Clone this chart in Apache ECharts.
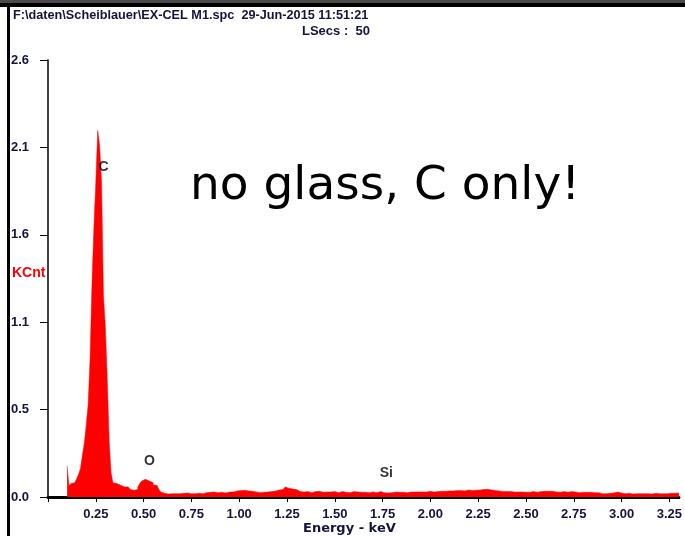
<!DOCTYPE html>
<html>
<head>
<meta charset="utf-8">
<script src="https://cdn.jsdelivr.net/npm/echarts@6/dist/echarts.min.js"></script>
<style>
  html, body { margin: 0; padding: 0; background: #fff; }
  #chart { width: 685px; height: 536px; }
</style>
</head>
<body>
<div id="chart"></div>
<script>
// spectrum: one value per 10 eV channel, first channel starts at 0.10 keV
const channelStart = 0.10
const channelWidth = 0.01
const counts = [
  0.185, 0.066, 0.080, 0.085, 0.095, 0.110, 0.135, 0.170, 0.250, 0.320,
  0.430, 0.550, 0.820, 1.270, 1.600, 1.870, 2.180, 2.090, 1.870, 1.200,
  1.010, 0.700, 0.330, 0.140, 0.085, 0.080, 0.075, 0.070, 0.065, 0.060,
  0.058, 0.060, 0.055, 0.045, 0.040, 0.038, 0.045, 0.060, 0.080, 0.095,
  0.105, 0.100, 0.095, 0.100, 0.085, 0.072, 0.070, 0.060, 0.045, 0.030,
  0.022, 0.020, 0.018, 0.022, 0.020, 0.018, 0.020, 0.024, 0.020, 0.018,
  0.022, 0.020, 0.024, 0.018, 0.020, 0.022, 0.020, 0.018, 0.022, 0.024,
  0.020, 0.024, 0.026, 0.030, 0.028, 0.024, 0.030, 0.028, 0.026, 0.030,
  0.028, 0.026, 0.024, 0.028, 0.030, 0.034, 0.030, 0.032, 0.036, 0.034,
  0.038, 0.036, 0.040, 0.038, 0.036, 0.040, 0.034, 0.032, 0.030, 0.028,
  0.026, 0.030, 0.028, 0.026, 0.030, 0.028, 0.032, 0.030, 0.036, 0.040,
  0.042, 0.046, 0.044, 0.050, 0.060, 0.052, 0.044, 0.048, 0.040, 0.044,
  0.036, 0.032, 0.034, 0.030, 0.028, 0.032, 0.030, 0.026, 0.030, 0.032,
  0.030, 0.034, 0.030, 0.028, 0.032, 0.030, 0.026, 0.030, 0.028, 0.032,
  0.030, 0.026, 0.028, 0.032, 0.030, 0.028, 0.030, 0.026, 0.028, 0.032,
  0.028, 0.030, 0.026, 0.028, 0.030, 0.028, 0.032, 0.026, 0.028, 0.030,
  0.028, 0.026, 0.030, 0.032, 0.028, 0.026, 0.030, 0.024, 0.028, 0.026,
  0.028, 0.030, 0.026, 0.028, 0.024, 0.028, 0.030, 0.026, 0.028, 0.030,
  0.028, 0.030, 0.026, 0.030, 0.032, 0.030, 0.034, 0.030, 0.032, 0.034,
  0.032, 0.030, 0.034, 0.032, 0.036, 0.034, 0.030, 0.034, 0.032, 0.036,
  0.034, 0.036, 0.040, 0.038, 0.042, 0.038, 0.040, 0.036, 0.040, 0.042,
  0.040, 0.038, 0.042, 0.040, 0.044, 0.042, 0.046, 0.044, 0.048, 0.046,
  0.044, 0.042, 0.040, 0.038, 0.040, 0.036, 0.034, 0.032, 0.030, 0.032,
  0.030, 0.032, 0.028, 0.030, 0.032, 0.030, 0.028, 0.030, 0.032, 0.028,
  0.030, 0.028, 0.030, 0.032, 0.030, 0.028, 0.030, 0.032, 0.030, 0.034,
  0.032, 0.034, 0.036, 0.034, 0.032, 0.030, 0.032, 0.028, 0.030, 0.032,
  0.030, 0.028, 0.030, 0.032, 0.028, 0.030, 0.028, 0.026, 0.030, 0.028,
  0.030, 0.028, 0.026, 0.028, 0.030, 0.026, 0.028, 0.026, 0.022, 0.020,
  0.022, 0.020, 0.018, 0.022, 0.020, 0.024, 0.026, 0.030, 0.028, 0.024,
  0.022, 0.020, 0.018, 0.022, 0.020, 0.018, 0.022, 0.020, 0.018, 0.020,
  0.022, 0.020, 0.018, 0.020, 0.022, 0.018, 0.020, 0.022, 0.018, 0.020,
  0.022, 0.020, 0.024, 0.020, 0.018, 0.022, 0.024, 0.022, 0.026, 0.024,
  0.024
]

// element markers: name, energy (keV), label height (KCnt)
const peakNames = ['C', 'O', 'Si']
const peakEnergy = [0.29, 0.53, 1.77]
const peakLabelY = [1.96, 0.214, 0.143]

const yTickLabels = ['0.0', '0.5', '1.1', '1.6', '2.1', '2.6']
const yStep = 0.52
const xStep = 0.25

const headerLine1 = 'F:\\daten\\Scheiblauer\\EX-CEL M1.spc  29-Jun-2015 11:51:21'
const headerLine2 = 'LSecs :  50'
const note = 'no glass, C only!'

const labelColor = '#14143c'
const numFont = { fontFamily: 'Liberation Sans', fontWeight: 'bold', fontSize: 13, color: labelColor }

const spectrum = counts.map((v, i) => [+(channelStart + i * channelWidth).toFixed(2), v])

const chart = echarts.init(document.getElementById('chart'), null, { renderer: 'canvas' })

const option = {
  animation: false,
  backgroundColor: '#fff',
  grid: { left: 48, right: 0, top: 60, bottom: 39 },
  xAxis: {
    type: 'value',
    min: 0,
    max: 3.3,
    interval: xStep,
    axisLine: { lineStyle: { color: '#000', width: 3 } },
    axisTick: { length: 5, lineStyle: { color: '#000', width: 1 } },
    axisLabel: Object.assign({
      margin: 11,
      showMaxLabel: false,
      formatter: v => {
        const k = v / xStep
        if (v === 0 || Math.abs(k - Math.round(k)) > 1e-6) return ''
        return v.toFixed(2)
      }
    }, numFont),
    splitLine: { show: false }
  },
  yAxis: {
    type: 'value',
    min: 0,
    max: 2.6,
    interval: yStep,
    axisLine: { show: true, lineStyle: { color: '#000', width: 1.5 } },
    axisTick: { show: true, length: 8, lineStyle: { color: '#000', width: 1 } },
    axisLabel: Object.assign({
      align: 'left',
      margin: 37,
      formatter: v => yTickLabels[Math.round(v / yStep)] || ''
    }, numFont),
    splitLine: { show: false }
  },
  series: [
    {
      type: 'line',
      step: 'end',
      data: spectrum,
      symbol: 'none',
      lineStyle: { color: '#ff0000', width: 0.5 },
      areaStyle: { color: '#ff0000', opacity: 1 },
      z: 1
    },
    {
      type: 'scatter',
      symbolSize: 0,
      data: peakNames.map((n, i) => ({ name: n, value: [peakEnergy[i], peakLabelY[i]] })),
      label: {
        show: true,
        position: 'inside',
        formatter: '{b}',
        fontFamily: 'Liberation Sans',
        fontWeight: 'bold',
        fontSize: 14,
        color: '#000'
      },
      emphasis: { disabled: true },
      silent: true,
      z: 5
    }
  ],
  graphic: [
    { type: 'rect', shape: { x: 0, y: 0, width: 685, height: 3 }, style: { fill: '#4a4a4a' } },
    { type: 'rect', shape: { x: 0, y: 3, width: 685, height: 4 }, style: { fill: '#000' } },
    { type: 'rect', shape: { x: 7, y: 5, width: 3, height: 531 }, style: { fill: '#000' } },
    {
      type: 'text', left: 13, top: 9,
      style: { text: headerLine1, fontFamily: 'Liberation Sans', fontWeight: 'bold', fontSize: 12.7, fill: labelColor }
    },
    {
      type: 'text', left: 302, top: 25,
      style: { text: headerLine2, fontFamily: 'Liberation Sans', fontWeight: 'bold', fontSize: 13, fill: labelColor }
    },
    {
      type: 'text', left: 12, top: 266,
      style: { text: 'KCnt', fontFamily: 'Liberation Sans', fontWeight: 'bold', fontSize: 14, fill: '#ff0000' }
    },
    {
      type: 'text', left: 190, top: 163,
      style: { text: note, fontFamily: 'DejaVu Sans', fontSize: 47, fill: '#000' }
    },
    {
      type: 'text', left: 303, top: 522,
      style: { text: 'Energy - keV', fontFamily: 'DejaVu Sans', fontWeight: 'bold', fontSize: 13, fill: labelColor }
    }
  ]
}

chart.setOption(option)
</script>
</body>
</html>
